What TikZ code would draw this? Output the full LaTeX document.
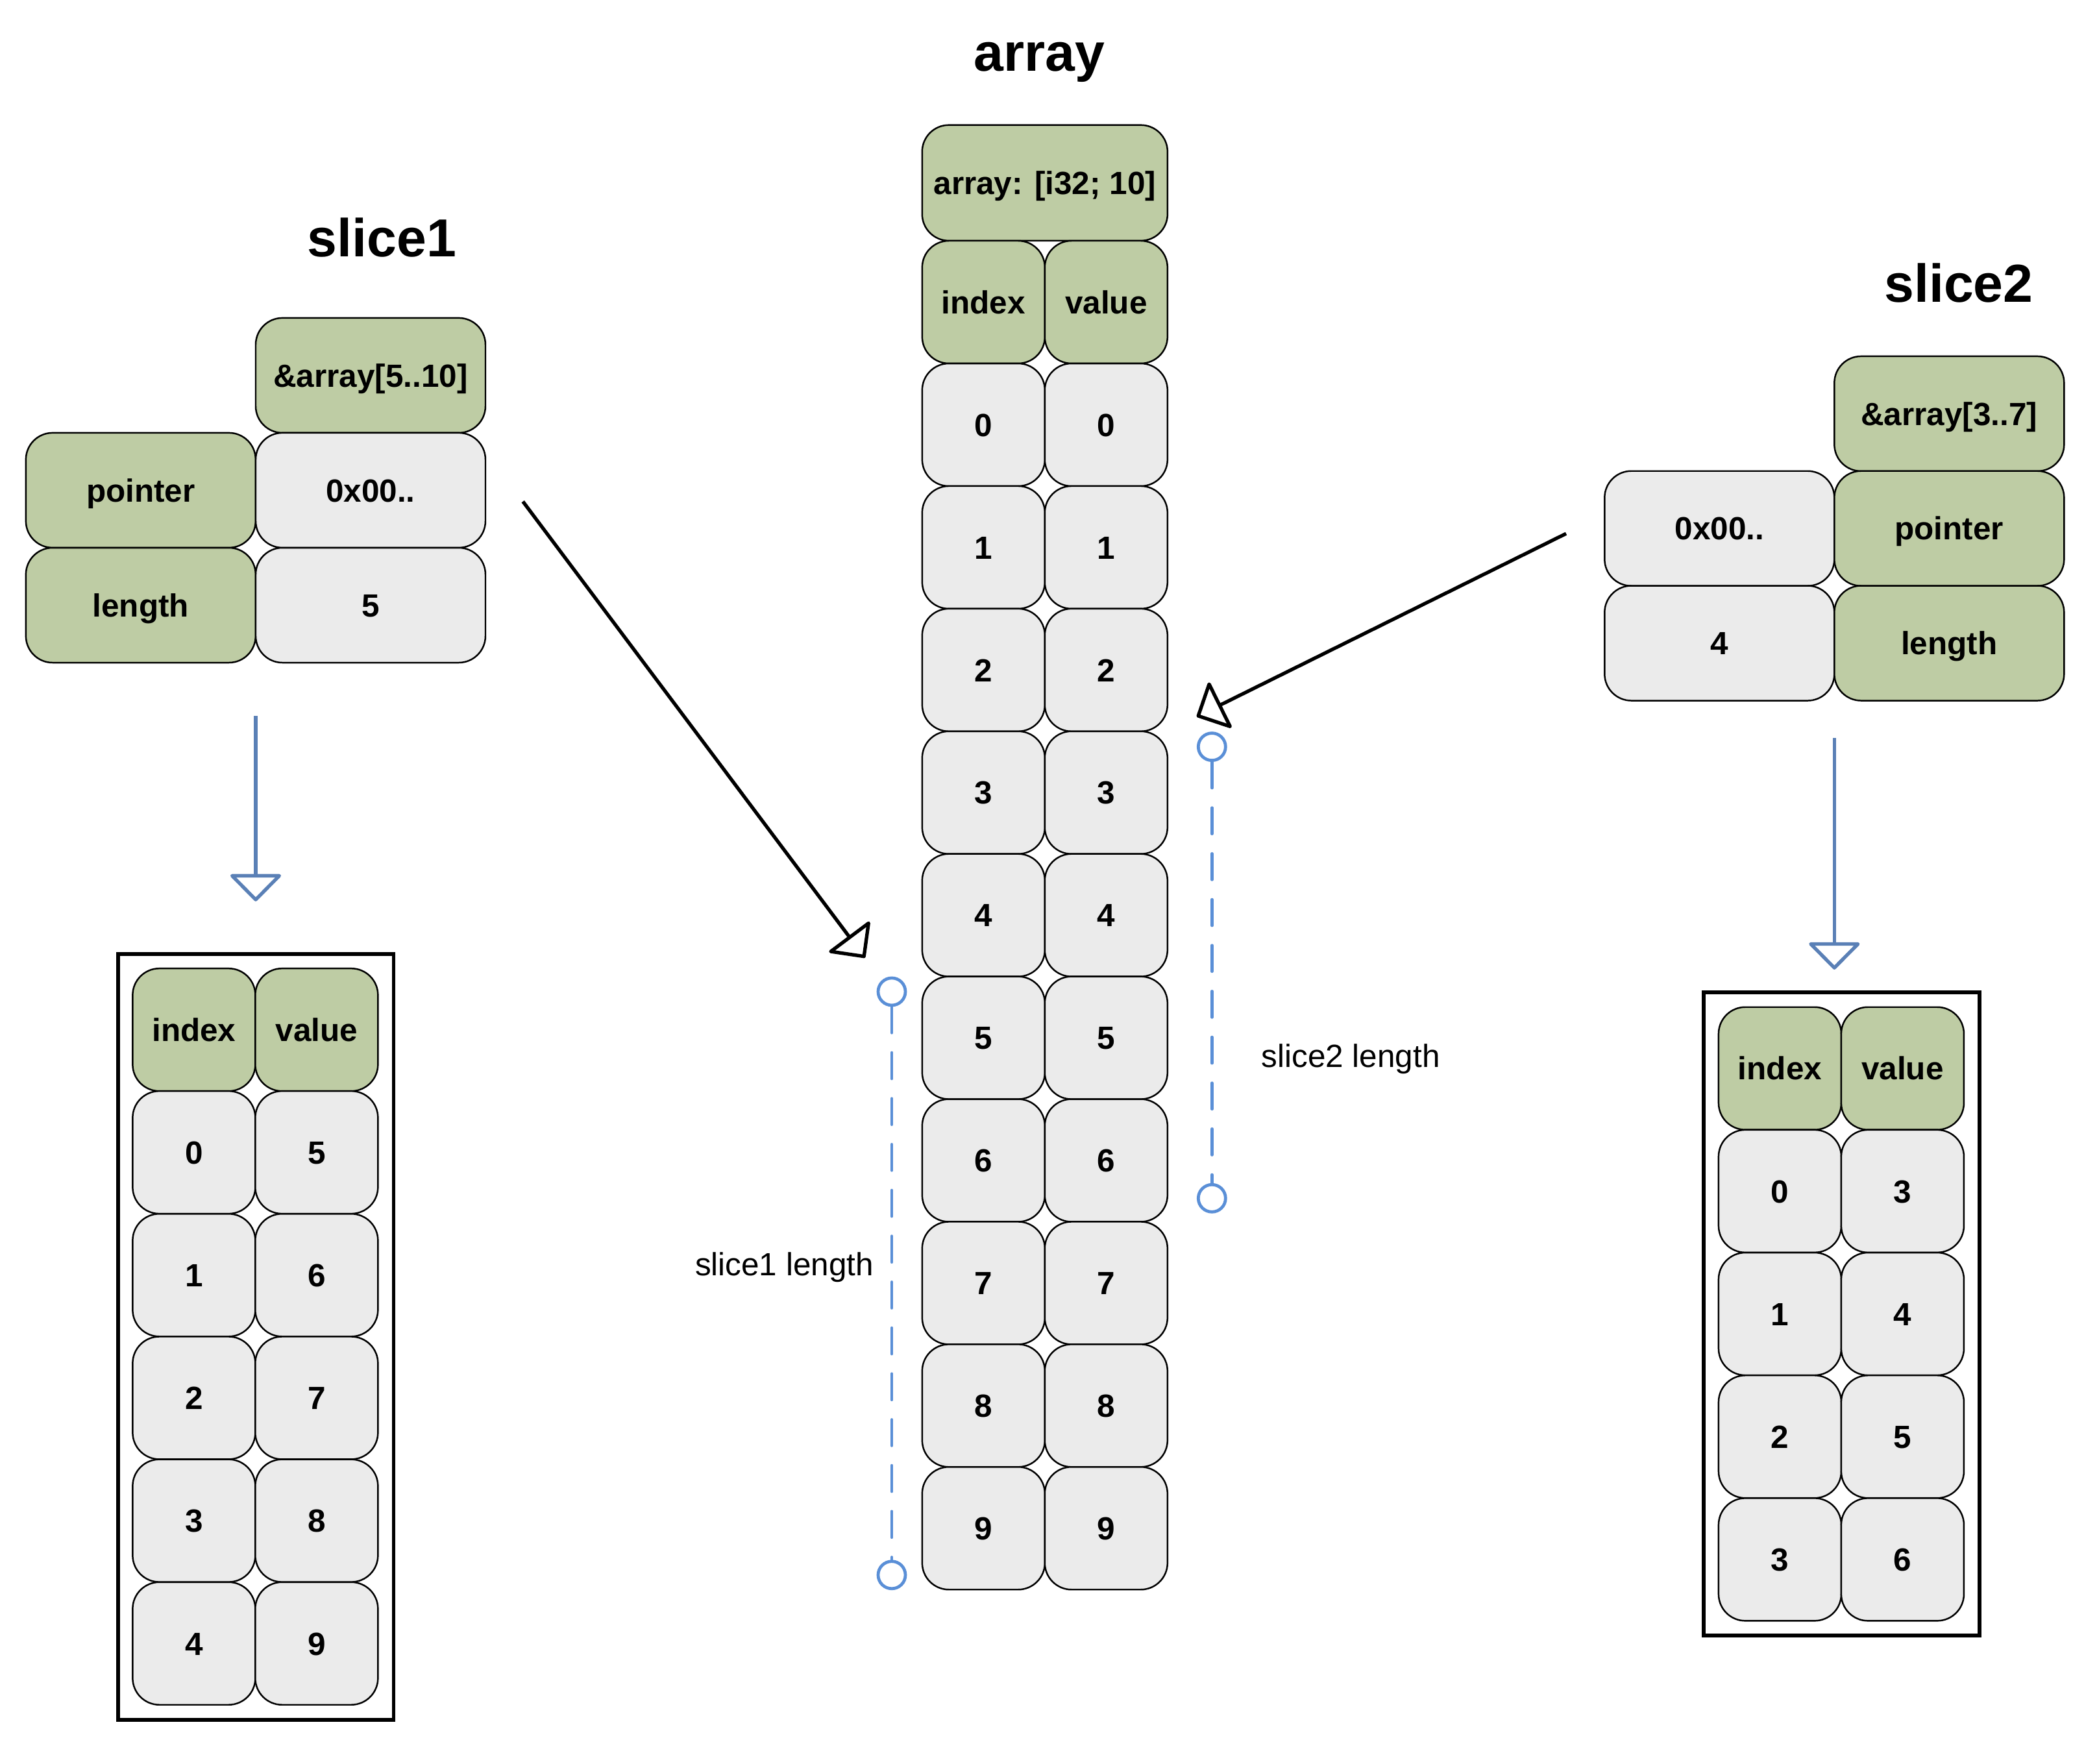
\documentclass[tikz,border=0pt]{standalone}
\usepackage{fontspec}
\setmainfont{Liberation Sans}
\usetikzlibrary{arrows.meta}
\definecolor{cgreen}{HTML}{BECCA4}
\definecolor{cgray}{HTML}{EBEBEB}
\definecolor{arrblue}{HTML}{5A80B6}
\definecolor{dimblue}{HTML}{5A8FD7}
\begin{document}
\begin{tikzpicture}[x=1pt,y=-1pt,
  cell/.style={draw=black, line width=1.2pt, rounded corners=20pt, inner sep=0pt,
    font=\fontsize{24}{28}\selectfont\bfseries, text height=17.2pt, text depth=0pt},
  gcell/.style={cell, fill=cgreen},
  wcell/.style={cell, fill=cgray},
  sq/.style={minimum width=91.75pt, minimum height=91.7pt},
  wide/.style={minimum width=171.8pt, minimum height=85.9pt},
  title/.style={font=\fontsize{40}{44}\selectfont\bfseries, anchor=base, inner sep=0pt},
  lbl/.style={font=\fontsize{24}{28}\selectfont, anchor=base, inner sep=0pt},
  frame/.style={draw=black, line width=2.7pt, inner sep=0pt},
  down/.style={draw=arrblue, line width=2.6pt, line join=round,
    -{Triangle[open, length=21pt, width=41pt, round]}},
  ptr/.style={draw=black, line width=2.6pt, line join=round,
    -{Triangle[open, length=21pt, width=41pt, round]}},
  endpt/.style={circle, draw=dimblue, line width=2.3pt, minimum size=20.4pt, inner sep=0pt},
  dim/.style={draw=dimblue, line width=2.3pt, line cap=round, dash pattern=on 19.4pt off 14.9pt},
]
\fill[white] (0,0) rectangle (1568,1318.6);
\useasboundingbox (0,0) rectangle (1568,1318.6);

% ---------- array ----------
\node[title] (tArr) at (777.1,53) {array};
\node[gcell, minimum width=183.5pt, minimum height=86.5pt] (aHead) at (781.25,136.75) {array: [i32; 10]};
\node[gcell, sq] (aIdx) at (735.4,225.9) {index};
\node[gcell, sq] (aVal) at (827.1,225.9) {value};
\foreach \i in {0,...,9} {
  \node[wcell, sq] (ai\i) at (735.4,{317.64+91.68*\i}) {\i};
  \node[wcell, sq] (av\i) at (827.1,{317.64+91.68*\i}) {\i};
}

% ---------- slice1 ----------
\node[title] (tS1) at (285.5,192) {slice1};
\node[gcell, wide] (s1Ref) at (277.1,280.7) {\&array[5..10]};
\node[gcell, wide] (s1PtrL) at (105.25,366.6) {pointer};
\node[wcell, wide] (s1Ptr) at (277.1,366.6) {0x00..};
\node[gcell, wide] (s1LenL) at (105.25,452.55) {length};
\node[wcell, wide] (s1Len) at (277.1,452.55) {5};

\coordinate (s1dA) at (191.2,535.4);
\coordinate (s1dB) at (191.2,674);
\draw[down] (s1dA) -- (s1dB);

\node[frame, minimum width=206.2pt, minimum height=572.6pt] (s1Box) at (191.3,999.7) {};
\node[gcell, sq] (s1Idx) at (145.05,770) {index};
\node[gcell, sq] (s1Val) at (236.75,770) {value};
\foreach \i/\v in {0/5,1/6,2/7,3/8,4/9} {
  \node[wcell, sq] (s1i\i) at (145.05,{861.7+91.8*\i}) {\i};
  \node[wcell, sq] (s1v\i) at (236.75,{861.7+91.8*\i}) {\v};
}

% ---------- slice2 ----------
\node[title] (tS2) at (1464.6,226) {slice2};
\node[gcell, wide] (s2Ref) at (1457.5,309.35) {\&array[3..7]};
\node[wcell, wide] (s2Ptr) at (1285.7,395.15) {0x00..};
\node[gcell, wide] (s2PtrL) at (1457.5,395.15) {pointer};
\node[wcell, wide] (s2Len) at (1285.7,480.95) {4};
\node[gcell, wide] (s2LenL) at (1457.5,480.95) {length};

\coordinate (s2dA) at (1371.6,552);
\coordinate (s2dB) at (1371.6,725);
\draw[down] (s2dA) -- (s2dB);

\node[frame, minimum width=206.2pt, minimum height=481pt] (s2Box) at (1377.1,982.5) {};
\node[gcell, sq] (s2Idx) at (1330.9,798.9) {index};
\node[gcell, sq] (s2Val) at (1422.6,798.9) {value};
\foreach \i/\v in {0/3,1/4,2/5,3/6} {
  \node[wcell, sq] (s2i\i) at (1330.9,{890.7+91.8*\i}) {\i};
  \node[wcell, sq] (s2v\i) at (1422.6,{890.7+91.8*\i}) {\v};
}

% ---------- pointer arrows ----------
\coordinate (p1a) at (391,375);
\coordinate (p1b) at (646.8,716.2);
\draw[ptr] (p1a) -- (p1b);
\coordinate (p2a) at (1171,399);
\coordinate (p2b) at (894.8,535.9);
\draw[ptr] (p2a) -- (p2b);

% ---------- length markers ----------
\node[endpt] (d1t) at (666.8,741.5) {};
\node[endpt] (d1b) at (666.8,1177.7) {};
\draw[dim] (d1t) -- (d1b);
\node[endpt] (d2t) at (906.2,558.4) {};
\node[endpt] (d2b) at (906.2,896) {};
\draw[dim] (d2t) -- (d2b);

\node[lbl] (l1) at (586.5,954) {slice1 length};
\node[lbl] (l2) at (1010,798) {slice2 length};
\end{tikzpicture}
\end{document}
